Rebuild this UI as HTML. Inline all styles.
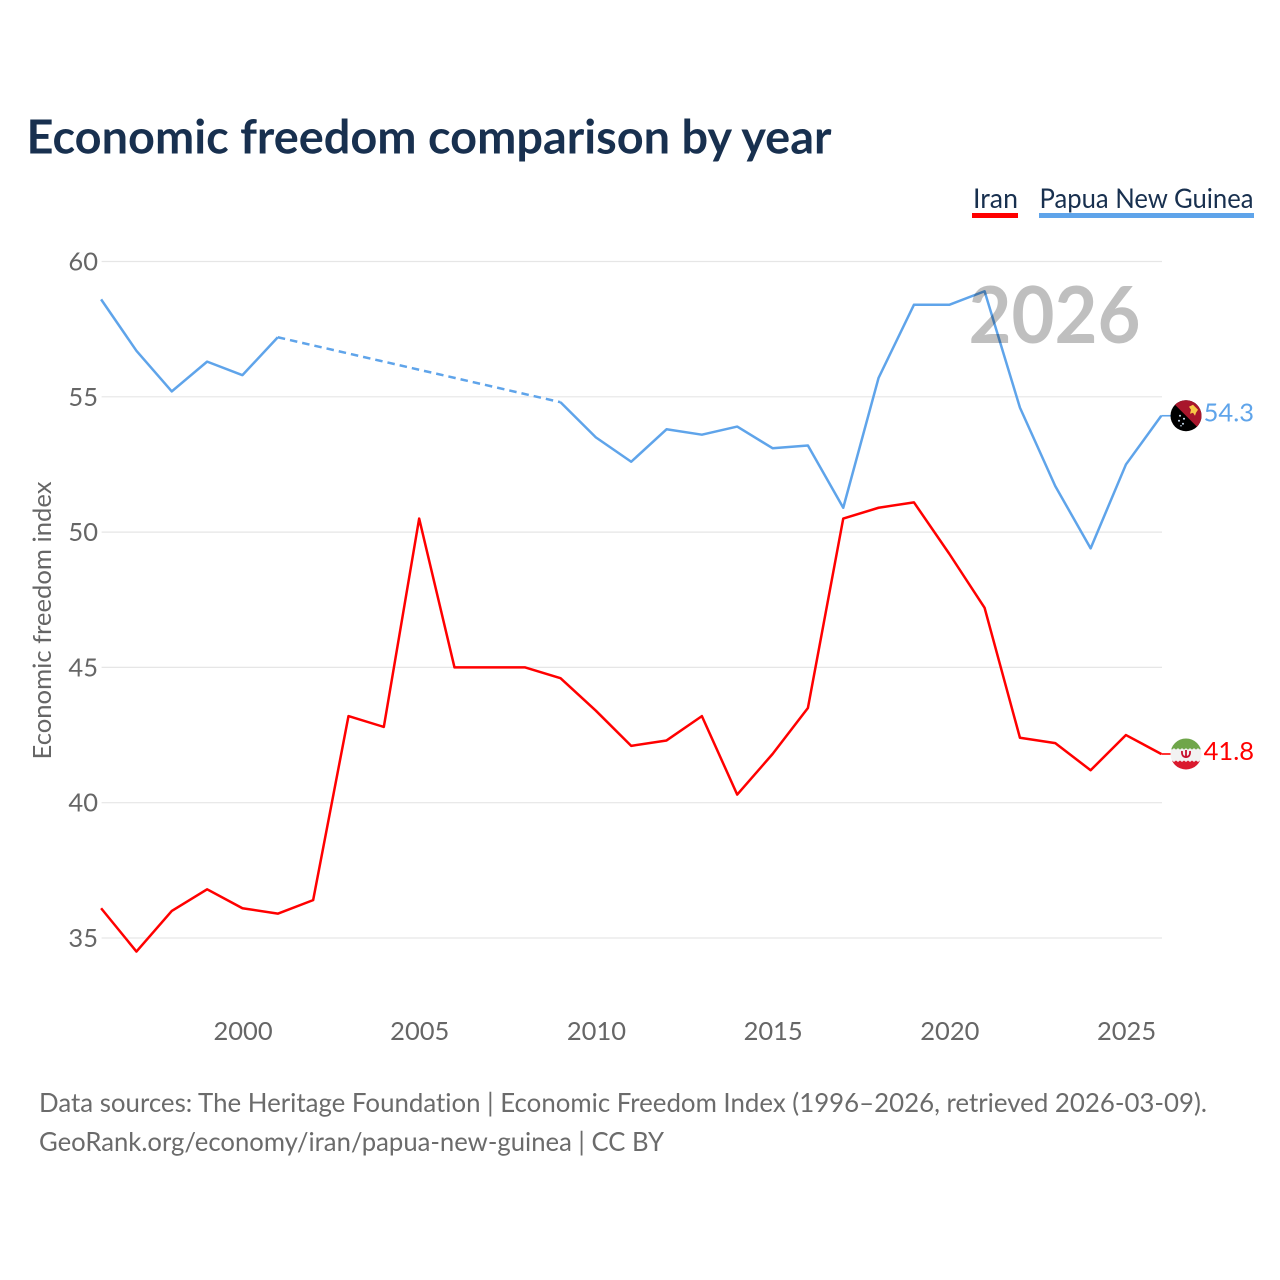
<!DOCTYPE html>
<html lang="en">
<head>
<meta charset="utf-8">
<title>Economic freedom comparison by year</title>
<style>
html,body{margin:0;padding:0;background:#fff;width:1280px;height:1280px;overflow:hidden}
svg{display:block}
text{font-family:"Lato","Carlito","Liberation Sans",sans-serif;font-variant-ligatures:none}
</style>
</head>
<body>
<svg id="chart" width="1280" height="1280" viewBox="0 0 1280 1280" xmlns="http://www.w3.org/2000/svg">
  <defs>
    <clipPath id="png-clip"><circle r="15.500" cx="0" cy="0"/></clipPath>
    <clipPath id="iran-clip"><circle r="15.500" cx="0" cy="0"/></clipPath>
  </defs>
  <rect width="1280" height="1280" fill="#fff"/>
  <text x="26.500" y="153.500" font-size="47" font-weight="700" fill="#18304f" textLength="805" lengthAdjust="spacingAndGlyphs">Economic freedom comparison by year</text>

  <g id="grid"></g>
  <g id="y-ticks"></g>
  <g id="x-ticks"></g>
  <text transform="translate(51,759.500) rotate(-90)" font-size="25" fill="#666" textLength="278" lengthAdjust="spacingAndGlyphs">Economic freedom index</text>

  <g id="series"></g>

  <text x="968.500" y="343" font-size="79" font-weight="700" fill="#000" fill-opacity="0.25" textLength="172" lengthAdjust="spacingAndGlyphs">2026</text>

  <g>
    <text x="973" y="208" font-size="27" fill="#18304f" textLength="45" lengthAdjust="spacingAndGlyphs">Iran</text>
    <rect x="972" y="213" width="46" height="5" fill="#ff0000"/>
  </g>
  <g>
    <text x="1039.500" y="208" font-size="27" fill="#18304f" textLength="214" lengthAdjust="spacingAndGlyphs">Papua New Guinea</text>
    <rect x="1039" y="213" width="215" height="5" fill="#5fa4ea"/>
  </g>

  <g id="flag-png">
    <g clip-path="url(#png-clip)">
      <rect x="-16" y="-16" width="32" height="32" fill="#000"/>
      <polygon points="-16,-16 16,-16 16,16" fill="#a8162c"/>
      <polygon points="3,-9 7,-11 10,-8 12,-6 10,-3 9,0 7,-3 4,-2 5,-6" fill="#f7c948"/>
      <circle cx="-6" cy="0" r="1" fill="#cfe3f5"/>
      <circle cx="-2" cy="3" r="1" fill="#cfe3f5"/>
      <circle cx="-7" cy="5" r="1" fill="#cfe3f5"/>
      <circle cx="-3" cy="8" r="1" fill="#cfe3f5"/>
      <circle cx="-5" cy="10" r="0.800" fill="#cfe3f5"/>
    </g>
  </g>
  <g id="flag-iran">
    <g clip-path="url(#iran-clip)">
      <rect x="-16" y="-16" width="32" height="32" fill="#f2f2f2"/>
      <rect x="-16" y="-16" width="32" height="10" fill="#6fa64a"/>
      <rect x="-16" y="8" width="32" height="8" fill="#da1a2e"/>
      <path d="M-16,-6 l2,1.500 2,-1.500 2,1.500 2,-1.500 2,1.500 2,-1.500 2,1.500 2,-1.500 2,1.500 2,-1.500 2,1.500 2,-1.500 2,1.500 2,-1.500 2,1.500 2,-1.500z" fill="#6fa64a" stroke="#6fa64a" stroke-width="0.200"/>
      <path d="M-16,8 l2,-1.500 2,1.500 2,-1.500 2,1.500 2,-1.500 2,1.500 2,-1.500 2,1.500 2,-1.500 2,1.500 2,-1.500 2,1.500 2,-1.500 2,1.500 2,-1.500 2,1.500z" fill="#da1a2e"/>
      <path d="M-4,-3 C-4.500,3 -1,3 0,3 C1,3 4.500,3 4,-3 M0,-4 V4" fill="none" stroke="#c8102e" stroke-width="1.800"/>
    </g>
  </g>

  <g id="end-labels"></g>

  <text x="39" y="1112" font-size="26" fill="#6b6b6b" textLength="1168" lengthAdjust="spacingAndGlyphs">Data sources: The Heritage Foundation | Economic Freedom Index (1996–2026, retrieved 2026-03-09).</text>
  <text x="39" y="1151" font-size="26" fill="#6b6b6b" textLength="625" lengthAdjust="spacingAndGlyphs">GeoRank.org/economy/iran/papua-new-guinea | CC BY</text>
</svg>
<script>
const years = [1996,1997,1998,1999,2000,2001,2002,2003,2004,2005,2006,2007,2008,2009,2010,2011,2012,2013,2014,2015,2016,2017,2018,2019,2020,2021,2022,2023,2024,2025,2026];
const iranValues = [36.1,34.5,36.0,36.8,36.1,35.9,36.4,43.2,42.8,50.5,45.0,45.0,45.0,44.6,43.4,42.1,42.3,43.2,40.3,41.8,43.5,50.5,50.9,51.1,49.2,47.2,42.4,42.2,41.2,42.5,41.8];
const pngValues = [58.6,56.7,55.2,56.3,55.8,57.2,null,null,null,null,null,null,null,54.8,53.5,52.6,53.8,53.6,53.9,53.1,53.2,50.9,55.7,58.4,58.4,58.9,54.6,51.7,49.4,52.5,54.3];
const yTickValues = [35,40,45,50,55,60];
const xTickValues = [2000,2005,2010,2015,2020,2025];

const NS = 'http://www.w3.org/2000/svg';
const xScale = v => 101.1 + (v - 1996) * 35.34;
const yScale = v => 938 - (v - 35) * 27.06;

function make(tag, parent, attrs, text) {
  const el = document.createElementNS(NS, tag);
  for (const k in attrs) el.setAttribute(k, attrs[k]);
  if (text !== undefined) el.textContent = text;
  parent.appendChild(el);
  return el;
}

const grid = document.getElementById('grid');
const yTicks = document.getElementById('y-ticks');
const xTicks = document.getElementById('x-ticks');
const series = document.getElementById('series');
const endLabels = document.getElementById('end-labels');

yTickValues.forEach(v => {
  const line = make('line', grid, {x1: 101.6, x2: 1162, y1: yScale(v), y2: yScale(v), stroke: '#e6e6e6', 'stroke-width': 1.2});
  
  
  const label = make('text', yTicks, {x: 98, y: yScale(v) + 9, 'text-anchor': 'end', 'font-size': 25.5, fill: '#666'}, String(v));
  
  
});

xTickValues.forEach(v => {
  const label = make('text', xTicks, {x: xScale(v) + 0.6, y: 1040, 'text-anchor': 'middle', 'font-size': 25.5, fill: '#666'}, String(v));
  
  
});

function drawSeries(values, color, key) {
  let run = [];
  let lastPoint = null;
  const flush = () => {
    if (run.length > 1) {
      const solid = make('polyline', series, {points: run.join(' '), fill: 'none', stroke: color, 'stroke-width': 2.5, 'stroke-linejoin': 'round'});
      
      
    }
    run = [];
  };
  values.forEach((v, i) => {
    if (v === null) { flush(); return; }
    const pt = [xScale(years[i]), yScale(v)];
    if (lastPoint && lastPoint.i !== i - 1) {
      const gap = make('line', series, {x1: lastPoint.pt[0], y1: lastPoint.pt[1], x2: pt[0], y2: pt[1], stroke: color, 'stroke-width': 2.5, 'stroke-dasharray': '7.5 5'});
      
      
    }
    run.push(pt.join(','));
    lastPoint = {pt: pt, i: i};
  });
  flush();
  const endY = lastPoint.pt[1];
  const connector = make('line', series, {x1: lastPoint.pt[0], y1: endY, x2: 1172, y2: endY, stroke: color, 'stroke-width': 1.6});
  
  
  const flag = document.getElementById('flag-' + key);
  flag.setAttribute('transform', 'translate(1186,' + endY + ')');
  const valueLabel = make('text', endLabels, {x: 1254, y: endY + 6, 'text-anchor': 'end', 'font-size': 25.5, fill: color}, values[values.length - 1].toFixed(1));
  
  
}

drawSeries(pngValues, '#5fa4ea', 'png');
drawSeries(iranValues, '#ff0000', 'iran');
</script>
</body>
</html>
